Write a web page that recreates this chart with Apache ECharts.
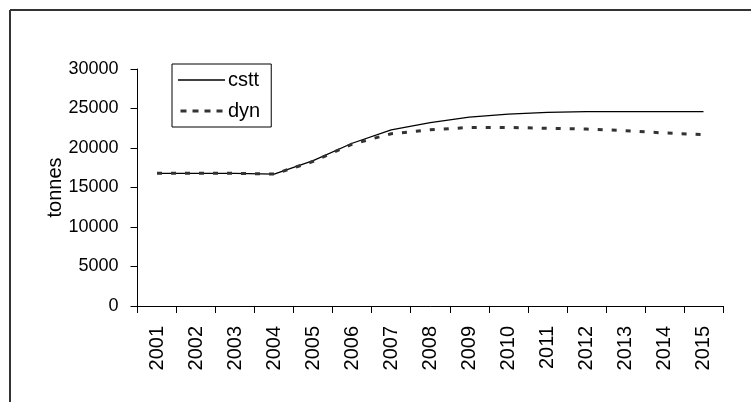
<!DOCTYPE html>
<html>
<head>
<meta charset="utf-8">
<script src="https://cdn.jsdelivr.net/npm/echarts@6/dist/echarts.min.js"></script>
<style>
  html, body { margin: 0; padding: 0; background: #fff; }
  #main { width: 751px; height: 402px; }
</style>
</head>
<body>
<div id="main"></div>
<script>
// data
var years = ['2001','2002','2003','2004','2005','2006','2007','2008','2009','2010','2011','2012','2013','2014','2015'];
var cstt = [16800,16800,16800,16700,18400,20600,22300,23200,23900,24300,24500,24600,24600,24600,24600];
var dyn  = [16800,16800,16800,16700,18300,20500,21800,22300,22600,22600,22500,22400,22200,21900,21700];

var font = 'Liberation Sans, Arial, sans-serif';
var narrow = 'Liberation Sans Narrow, Arial Narrow, Liberation Sans, sans-serif';

// legend samples: a solid stroke and a dashed one
var solidIcon = 'path://M0,0.8H47V2.2H0Z';
var dashIcon = 'path://M0,0h6v3h-6z M12,0h6v3h-6z M24,0h6v3h-6z M36,0h6v3h-6z';

var myChart = echarts.init(document.getElementById('main'));
myChart.setOption({
    animation: false,
    backgroundColor: '#fff',
    textStyle: { fontFamily: font, color: '#000' },
    grid: { left: 137.5, right: 28, top: 69, bottom: 96, containLabel: false },
    // frame round the chart, only top and left edges are visible
    graphic: [
        { type: 'line', shape: { x1: 10, y1: 10, x2: 751, y2: 10 }, style: { stroke: '#333', lineWidth: 2 } },
        { type: 'line', shape: { x1: 10, y1: 10, x2: 10, y2: 402 }, style: { stroke: '#333', lineWidth: 2 } }
    ],
    legend: {
        orient: 'vertical',
        left: 172,
        top: 64,
        padding: [5, 11, 5, 6],
        itemGap: 9,
        itemWidth: 47,
        itemHeight: 3,
        borderColor: '#000',
        borderWidth: 1,
        textStyle: { fontSize: 20, color: '#000', fontFamily: font, padding: [0, 0, 0, -2], lineHeight: 22 },
        data: [{ name: 'cstt', icon: solidIcon }, { name: 'dyn', icon: dashIcon }]
    },
    xAxis: {
        type: 'category',
        data: years,
        boundaryGap: true,
        axisLine: { lineStyle: { color: '#000', width: 1 } },
        axisTick: { show: true, length: 7, interval: 0, lineStyle: { color: '#000' } },
        axisLabel: { rotate: 90, interval: 0, margin: 20, fontSize: 20, color: '#000', fontFamily: font },
        splitLine: { show: false }
    },
    yAxis: {
        type: 'value',
        min: 0,
        max: 30000,
        interval: 5000,
        name: 'tonnes',
        nameLocation: 'middle',
        nameRotate: 90,
        nameGap: 82,
        nameMoveOverlap: false,
        nameTextStyle: { fontSize: 20, color: '#000', fontFamily: font, verticalAlign: 'middle' },
        axisLine: { show: true, lineStyle: { color: '#000', width: 1 } },
        axisTick: { show: true, length: 7, lineStyle: { color: '#000' } },
        axisLabel: { margin: 19, fontSize: 18, color: '#000', fontFamily: narrow, formatter: function (v) { return String(v); } },
        splitLine: { show: false }
    },
    series: [
        {
            name: 'cstt',
            type: 'line',
            data: cstt,
            symbol: 'none',
            lineStyle: { color: '#000', width: 1.3 },
            itemStyle: { color: '#000' }
        },
        {
            name: 'dyn',
            type: 'line',
            data: dyn,
            symbol: 'none',
            lineStyle: { color: '#333', width: 3, type: [5, 9] },
            itemStyle: { color: '#333' }
        }
    ]
});
</script>
</body>
</html>
